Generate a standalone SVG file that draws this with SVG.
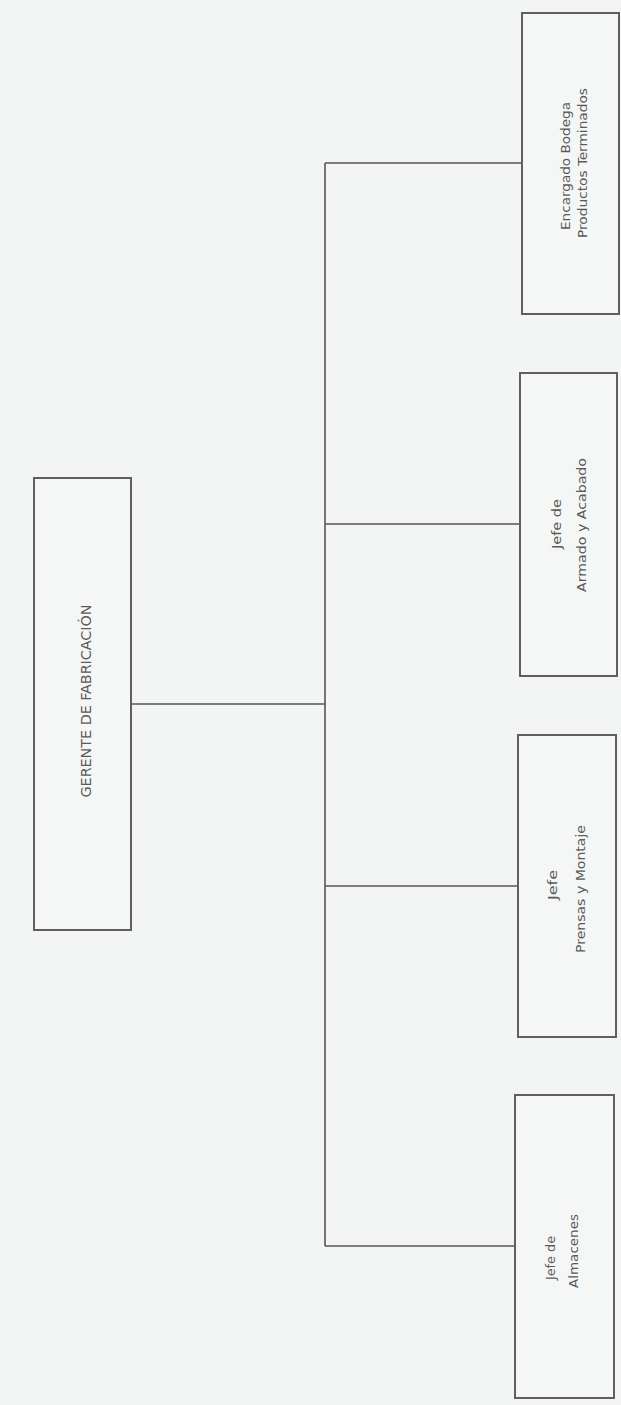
<svg xmlns="http://www.w3.org/2000/svg" width="621" height="1405" viewBox="0 0 621 1405">
  <style>
    .box { fill: #f4f7f6; stroke: #5f5f5f; stroke-width: 2; }
    .conn { fill: none; stroke: #555555; stroke-width: 1.6; }
    .lbl { font-family: "DejaVu Sans", "Liberation Sans", sans-serif; font-stretch: condensed; font-size: 12px; fill: #5a5a5a; text-anchor: middle; }
    .big { font-size: 14px; }
  </style>
  <rect x="0" y="0" width="621" height="1405" fill="#f2f5f4"/>
  <g id="connectors">
    <path class="conn" d="M132 704 H325"/>
    <path class="conn" d="M325 163 V1246"/>
    <path class="conn" d="M325 163 H521"/>
    <path class="conn" d="M325 524 H519"/>
    <path class="conn" d="M325 886 H518"/>
    <path class="conn" d="M325 1246 H515"/>
  </g>
  <g id="gerente">
    <rect class="box" x="34" y="478" width="97" height="452"/>
    <text class="lbl big" transform="translate(91 701) rotate(-90)" textLength="193" lengthAdjust="spacingAndGlyphs">GERENTE DE FABRICACIÓN</text>
  </g>
  <g id="encargado">
    <rect class="box" x="522" y="13" width="97" height="301"/>
    <text class="lbl" transform="translate(570 166) rotate(-90)" textLength="128" lengthAdjust="spacingAndGlyphs">Encargado Bodega</text>
    <text class="lbl" transform="translate(587 163) rotate(-90)" textLength="150" lengthAdjust="spacingAndGlyphs">Productos Terminados</text>
  </g>
  <g id="armado">
    <rect class="box" x="520" y="373" width="97" height="303"/>
    <text class="lbl" transform="translate(561 524) rotate(-90)" textLength="50" lengthAdjust="spacingAndGlyphs">Jefe de</text>
    <text class="lbl" transform="translate(586 525) rotate(-90)" textLength="134" lengthAdjust="spacingAndGlyphs">Armado y Acabado</text>
  </g>
  <g id="prensas">
    <rect class="box" x="518" y="735" width="98" height="302"/>
    <text class="lbl" transform="translate(557 885) rotate(-90)" textLength="30" lengthAdjust="spacingAndGlyphs">Jefe</text>
    <text class="lbl" transform="translate(585 889) rotate(-90)" textLength="128" lengthAdjust="spacingAndGlyphs">Prensas y Montaje</text>
  </g>
  <g id="almacenes">
    <rect class="box" x="515" y="1095" width="99" height="303"/>
    <text class="lbl" transform="translate(555 1258) rotate(-90)" textLength="44" lengthAdjust="spacingAndGlyphs">Jefe de</text>
    <text class="lbl" transform="translate(578 1251) rotate(-90)" textLength="74" lengthAdjust="spacingAndGlyphs">Almacenes</text>
  </g>
</svg>
